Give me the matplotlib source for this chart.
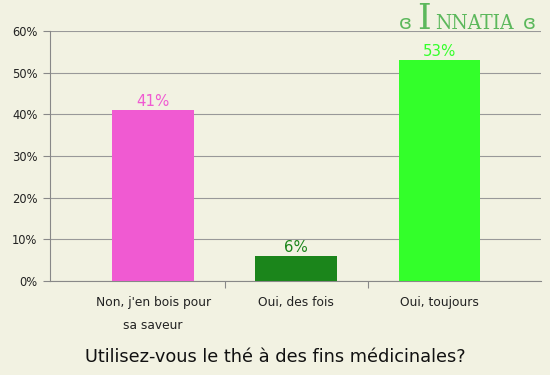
import matplotlib
matplotlib.use("Agg")
import matplotlib.pyplot as plt
from matplotlib.ticker import FixedLocator, NullFormatter

categories = ["Non, j'en bois pour\nsa saveur", "Oui, des fois", "Oui, toujours"]
values = [41, 6, 53]
colors = ["#f05ad2", "#1b851b", "#33ff2a"]
labels = ["41%", "6%", "53%"]
yticks = [0, 10, 20, 30, 40, 50, 60]

bg = "#f2f2e2"
fig = plt.figure(figsize=(5.5, 3.75), dpi=100, facecolor=bg)
ax = fig.add_axes([50 / 550, 1 - 281 / 375, 491 / 550, 250 / 375], facecolor=bg)

x = list(range(len(categories)))
ax.bar(x, values, width=0.57, color=colors, zorder=3)
for xi, v, c, t in zip(x, values, colors, labels):
    ax.text(xi, v + 0.3, t, ha="center", va="bottom", color=c, fontsize=10.8, zorder=4)

ax.set_xlim(-0.72, 2.71)
ax.set_ylim(0, 60)
ax.set_yticks(yticks)
ax.set_yticklabels([f"{t}%" for t in yticks], fontsize=8.3, color="#222222")
ax.yaxis.grid(True, color="#999999", linewidth=0.8, zorder=0)

ax.xaxis.set_major_locator(FixedLocator([0.5, 1.5]))
ax.xaxis.set_major_formatter(NullFormatter())
ax.xaxis.set_minor_locator(FixedLocator(x))
ax.set_xticklabels(categories, minor=True, fontsize=8.8, color="#222222", linespacing=2.0)
ax.tick_params(axis="x", which="minor", length=0, pad=11)
ax.tick_params(axis="x", which="major", length=5, color="#888888", direction="out")
ax.tick_params(axis="y", length=5, color="#888888", pad=4)

for s in ["top", "right"]:
    ax.spines[s].set_visible(False)
for s in ["left", "bottom"]:
    ax.spines[s].set_color("#888888")

fig.text(0.5, 1 - 357 / 375, "Utilisez-vous le thé à des fins médicinales?",
         ha="center", va="center", fontsize=12.8, color="#111111")

# logo
logo_green = "#5cb85c"
base = 1 - 29 / 375
fig.text(405 / 550, base, "ɞ", ha="center", va="baseline",
         fontsize=14, color=logo_green)
fig.text(424 / 550, base, "I", ha="center", va="baseline",
         fontsize=25, color=logo_green, family="DejaVu Serif")
fig.text(474 / 550, base, "NNATIA", ha="center", va="baseline",
         fontsize=15, color=logo_green, family="DejaVu Serif", stretch="condensed")
fig.text(529 / 550, base, "ɞ", ha="center", va="baseline",
         fontsize=14, color=logo_green)

fig.savefig("out.png", dpi=100, facecolor=bg)
